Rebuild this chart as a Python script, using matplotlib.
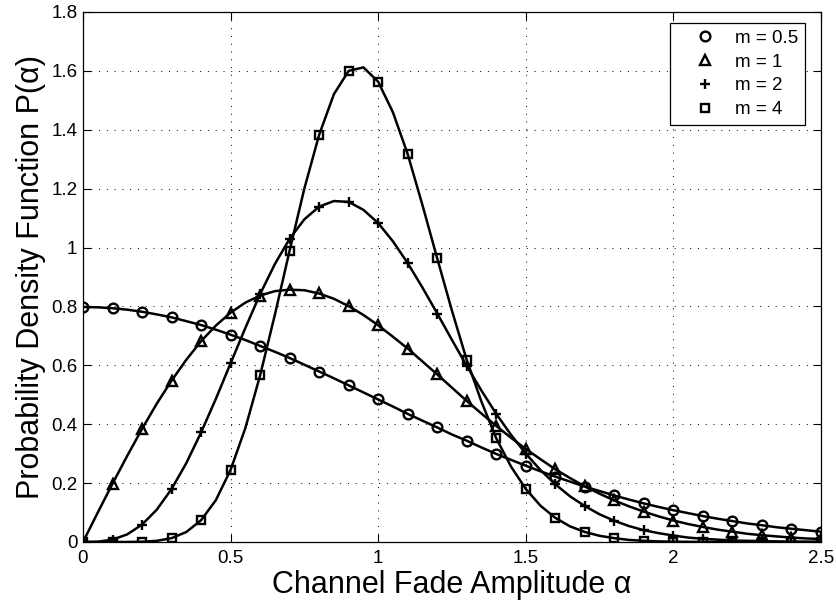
import matplotlib
matplotlib.use('Agg')
import matplotlib.pyplot as plt

plt.rcParams['font.family'] = ['Liberation Sans', 'DejaVu Sans']

# fade amplitude grid for the curves (markers sit on every second point)
alpha = [0.0, 0.05, 0.1, 0.15, 0.2, 0.25, 0.3, 0.35, 0.4, 0.45, 0.5,
         0.55, 0.6, 0.65, 0.7, 0.75, 0.8, 0.85, 0.9, 0.95, 1.0,
         1.05, 1.1, 1.15, 1.2, 1.25, 1.3, 1.35, 1.4, 1.45, 1.5,
         1.55, 1.6, 1.65, 1.7, 1.75, 1.8, 1.85, 1.9, 1.95, 2.0,
         2.05, 2.1, 2.15, 2.2, 2.25, 2.3, 2.35, 2.4, 2.45, 2.5]

pdf_m05 = [0.798, 0.797, 0.794, 0.789, 0.782, 0.773, 0.763, 0.750, 0.737, 0.721, 0.704,
           0.686, 0.666, 0.646, 0.625, 0.602, 0.579, 0.556, 0.532, 0.508, 0.484,
           0.460, 0.435, 0.412, 0.389, 0.365, 0.344, 0.321, 0.299, 0.279, 0.259,
           0.240, 0.222, 0.205, 0.188, 0.173, 0.158, 0.144, 0.131, 0.119, 0.108,
           0.098, 0.088, 0.079, 0.071, 0.063, 0.057, 0.050, 0.045, 0.040, 0.035]

pdf_m1 = [0.0, 0.100, 0.198, 0.293, 0.384, 0.470, 0.548, 0.619, 0.682, 0.735, 0.779,
          0.813, 0.837, 0.852, 0.857, 0.855, 0.844, 0.826, 0.801, 0.771, 0.736,
          0.697, 0.657, 0.613, 0.569, 0.524, 0.479, 0.436, 0.394, 0.354, 0.316,
          0.281, 0.247, 0.217, 0.189, 0.164, 0.141, 0.121, 0.103, 0.087, 0.073,
          0.061, 0.051, 0.042, 0.035, 0.028, 0.023, 0.019, 0.015, 0.012, 0.010]

pdf_m2 = [0.0, 0.001, 0.008, 0.026, 0.059, 0.110, 0.180, 0.268, 0.372, 0.486, 0.607,
          0.727, 0.842, 0.944, 1.030, 1.096, 1.139, 1.158, 1.155, 1.128, 1.083,
          1.021, 0.947, 0.864, 0.776, 0.686, 0.598, 0.514, 0.435, 0.364, 0.300,
          0.244, 0.196, 0.155, 0.122, 0.094, 0.072, 0.054, 0.040, 0.030, 0.022,
          0.015, 0.011, 0.008, 0.005, 0.004, 0.003, 0.002, 0.001, 0.001, 0.0005]

pdf_m4 = [0.0, 0.0, 0.0, 0.0001, 0.001, 0.004, 0.013, 0.034, 0.074, 0.142, 0.245,
          0.387, 0.566, 0.772, 0.990, 1.201, 1.383, 1.521, 1.600, 1.612, 1.563,
          1.459, 1.317, 1.144, 0.963, 0.785, 0.618, 0.476, 0.352, 0.256, 0.180,
          0.123, 0.082, 0.053, 0.034, 0.021, 0.013, 0.007, 0.004, 0.002, 0.001,
          0.0007, 0.0003, 0.0002, 0.0001, 0.0, 0.0, 0.0, 0.0, 0.0, 0.0]

series = [
    (pdf_m05, 'o', 7, 'm = 0.5'),
    (pdf_m1, '^', 7.5, 'm = 1'),
    (pdf_m2, '+', 7.5, 'm = 2'),
    (pdf_m4, 's', 6.3, 'm = 4'),
]

fig = plt.figure(figsize=(8.36, 6.05), dpi=100)
ax = fig.add_axes([83 / 836, 63 / 605, 738 / 836, 530 / 605])

handles = []
for ys, mk, ms, lab in series:
    ax.plot(alpha, ys, 'k-', lw=1.8)
    h, = ax.plot(alpha[::2], ys[::2], linestyle='none', marker=mk, ms=ms,
                 mfc='none', mec='k', mew=1.7, label=lab)
    handles.append(h)

ax.set_xlim(0, 2.5)
ax.set_ylim(0, 1.8)
ax.set_xticks([0, 0.5, 1, 1.5, 2, 2.5])
ax.set_xticklabels(['0', '0.5', '1', '1.5', '2', '2.5'])
yt = [0, 0.2, 0.4, 0.6, 0.8, 1, 1.2, 1.4, 1.6, 1.8]
ax.set_yticks(yt)
ax.set_yticklabels(['0', '0.2', '0.4', '0.6', '0.8', '1', '1.2', '1.4', '1.6', '1.8'])

ax.tick_params(direction='in', top=True, right=True, length=6, width=0.8,
               labelsize=13.5, colors='k')
ax.tick_params(axis='x', pad=6)
ax.tick_params(axis='y', pad=4)
for s in ax.spines.values():
    s.set_linewidth(0.9)

ax.grid(True, color='k', linestyle=(0, (1, 7)), linewidth=0.7)

ax.set_xlabel('Channel Fade Amplitude \u03b1', fontsize=22, labelpad=2)
ax.set_ylabel('Probability Density Function P(\u03b1)', fontsize=22, labelpad=4)

leg = ax.legend(handles=handles, loc='upper right',
                bbox_to_anchor=(805 / 836, 1 - 23 / 605),
                bbox_transform=fig.transFigure, borderaxespad=0,
                fontsize=13.5, fancybox=False, framealpha=1, edgecolor='k',
                handlelength=3.1, handletextpad=0.05, borderpad=0.35,
                labelspacing=0.36, numpoints=1)
leg.get_frame().set_linewidth(0.9)

fig.savefig('out.png', dpi=100)
